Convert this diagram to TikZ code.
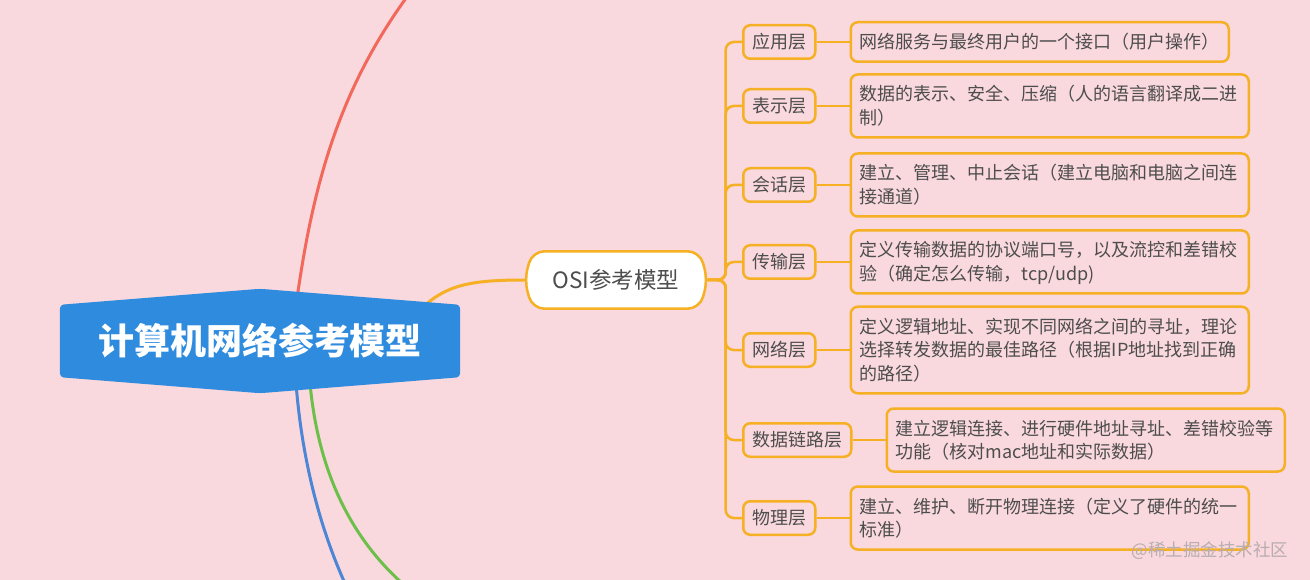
\documentclass[tikz,border=0pt]{standalone}
\usepackage{fontspec}
\setmainfont{Noto Sans CJK SC}
\usetikzlibrary{positioning, calc, backgrounds}
\definecolor{mpink}{HTML}{F9D8DE}
\definecolor{mblue}{HTML}{2F8BDD}
\definecolor{morange}{HTML}{F6B024}
\definecolor{mred}{HTML}{F2685A}
\definecolor{mgreen}{HTML}{6CC04A}
\definecolor{mlblue}{HTML}{4C86D4}
\definecolor{mtext}{HTML}{4D4D4D}
\definecolor{mmark}{HTML}{B8ADB0}
\newcommand\mstrut{\rule[-5pt]{0pt}{23.5pt}}
\tikzset{
  rootnode/.style={minimum width=400pt, minimum height=104pt, inner sep=0pt, text=white,
                   font=\fontsize{36}{40}\selectfont\bfseries},
  osinode/.style={minimum width=183pt, minimum height=57pt, inner sep=0pt, text=mtext,
                  font=\fontsize{22.5}{26}\selectfont},
  layer/.style={rectangle, rounded corners=7pt, draw=morange, line width=2.5pt,
                inner xsep=9pt, inner ysep=5pt, text=mtext, font=\fontsize{18}{23.5}\selectfont,
                execute at begin node=\mstrut, execute at end node=\mstrut},
  desc/.style={layer, text width=380pt, align=left, inner xsep=9pt, inner ysep=8pt},
  branch/.style={draw=morange, line width=2.5pt, rounded corners=8pt},
  hexfill/.style={fill=mblue, rounded corners=4pt},
  osishape/.style={fill=white, draw=morange, line width=2.5pt, rounded corners=12pt},
  curve/.style={line width=3pt, line cap=round}
}
\begin{document}
\begin{tikzpicture}[x=1pt, y=-1pt]
  \useasboundingbox (0,0) rectangle (1310,580);

  \node[rootnode] (root) at (260,341) {计算机网络参考模型};
  \node[osinode] (osi) at (616,280) {OSI参考模型};

  % layers
  \node[layer, anchor=west] (app) at (742,42) {应用层};
  \node[layer, anchor=west] (pres) at (742,106) {表示层};
  \node[layer, anchor=west] (sess) at (742,185) {会话层};
  \node[layer, anchor=west] (trans) at (742,262) {传输层};
  \node[layer, anchor=west] (net) at (742,350) {网络层};
  \node[layer, anchor=west] (link) at (742,440) {数据链路层};
  \node[layer, anchor=west] (phys) at (742,518) {物理层};

  \node[desc, right=33pt of app, text width=360pt] (appd) {网络服务与最终用户的一个接口（用户操作）};
  \node[desc, right=33pt of pres] (presd) {数据的表示、安全、压缩（人的语言翻译成二进\\制）};
  \node[desc, right=33pt of sess] (sessd) {建立、管理、中止会话（建立电脑和电脑之间连\\接通道）};
  \node[desc, right=33pt of trans] (transd) {定义传输数据的协议端口号，以及流控和差错校\\验（确定怎么传输，tcp/udp)};
  \node[desc, right=33pt of net] (netd) {定义逻辑地址、实现不同网络之间的寻址，理论\\选择转发数据的最佳路径（根据IP地址找到正确\\的路径）};
  \node[desc, right=33pt of link] (linkd) {建立逻辑连接、进行硬件地址寻址、差错校验等\\功能（核对mac地址和实际数据）};
  \node[desc, right=33pt of phys] (physd) {建立、维护、断开物理连接（定义了硬件的统一\\标准）};

  \node[text=mmark, font=\fontsize{17.5}{20}\selectfont] (mark) at (1210,551) {@稀土掘金技术社区};

  \coordinate (redend) at (412,-10);
  \coordinate (blueend) at (348,590);
  \coordinate (greenend) at (410,590);
  \coordinate (trunk) at ($(osi.east)+(18,0)$);

  \begin{scope}[on background layer]
    \fill[mpink] (0,0) rectangle (1310,580);
    \draw[curve, mred] ($(root.north)+(37,10)$) .. controls (315,170) and (345,80) .. (redend);
    \draw[curve, mlblue] ($(root.south)+(36,-10)$) .. controls (302,460) and (320,530) .. (blueend);
    \draw[curve, mgreen] ($(root.south)+(50,-10)$) .. controls (318,470) and (350,540) .. (greenend);
    \draw[curve, morange] (420,310) .. controls (445,285) and (470,280) .. (osi.west);
    \fill[hexfill] ($(root.north west)+(0,16)$) -- (root.north) -- ($(root.north east)+(0,16)$)
      -- ($(root.south east)+(0,-16)$) -- (root.south) -- ($(root.south west)+(0,-16)$) -- cycle;
    \filldraw[osishape] (osi.west) -- ($(osi.north west)+(8,0)$) -- ($(osi.north east)+(-8,0)$)
      -- (osi.east) -- ($(osi.south east)+(-8,0)$) -- ($(osi.south west)+(8,0)$) -- cycle;
  \end{scope}

  \foreach \l in {app, pres, sess, trans, net, link, phys}
    \draw[branch] (osi.east) -- (trunk) |- (\l.west);

  \draw[branch] (app) -- (appd);
  \draw[branch] (pres) -- (presd);
  \draw[branch] (sess) -- (sessd);
  \draw[branch] (trans) -- (transd);
  \draw[branch] (net) -- (netd);
  \draw[branch] (link) -- (linkd);
  \draw[branch] (phys) -- (physd);
\end{tikzpicture}
\end{document}
